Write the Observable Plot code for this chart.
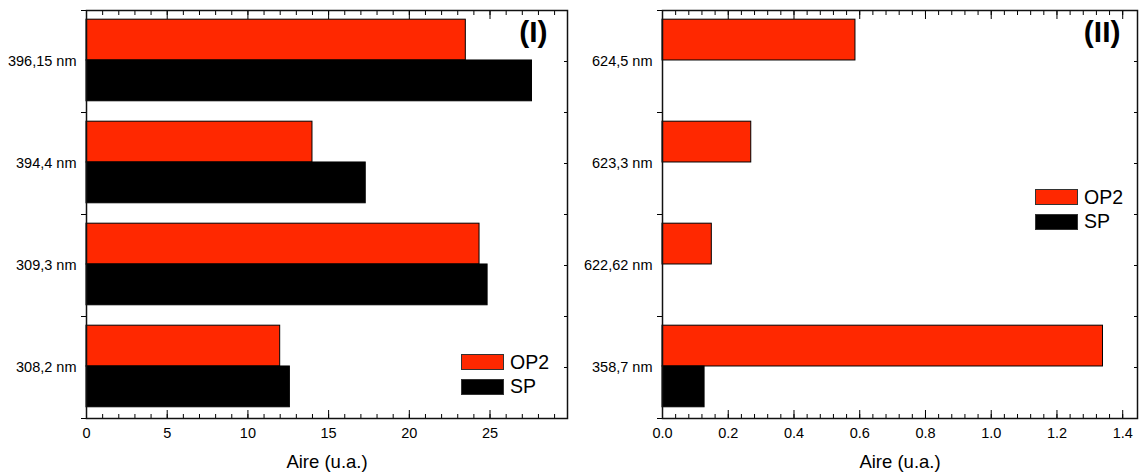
<!DOCTYPE html>
<html>
<head>
<meta charset="utf-8">
<script src="https://cdn.jsdelivr.net/npm/d3@7"></script>
<script src="https://cdn.jsdelivr.net/npm/@observablehq/plot@0.6"></script>
<style>
  html, body { margin: 0; padding: 0; background: #fff; }
  #wrap { position: relative; width: 1139px; height: 475px; display: flex; font-family: "Liberation Sans", Arial, sans-serif; }
  .legend { position: absolute; font-size: 19.5px; color: #000; line-height: 1; }
  .legend .row { display: flex; align-items: center; height: 24.5px; }
  .legend .sw { width: 41px; height: 14px; border: 1px solid #333; margin-right: 6px; }
</style>
</head>
<body>
<div id="wrap"></div>
<script>
// ---- data ----
const seriesNames = ["OP2", "SP"];
const seriesColors = ["#ff2800", "#000000"];

const catsI = ["396,15 nm", "394,4 nm", "309,3 nm", "308,2 nm"];
const op2I = [23.5, 14.0, 24.35, 12.0];
const spI = [27.6, 17.3, 24.85, 12.6];
const xMajorI = [0, 5, 10, 15, 20, 25];
const xMinorI = d3.range(0, 30, 1);

const catsII = ["624,5 nm", "623,3 nm", "622,62 nm", "358,7 nm"];
const op2II = [0.587, 0.27, 0.15, 1.34];
const spII = [0, 0, 0, 0.128];
const xMajorII = [0.0, 0.2, 0.4, 0.6, 0.8, 1.0, 1.2, 1.4];
const xMinorII = d3.range(0, 1.44, 0.04);

const axisTitle = "Aire (u.a.)";
const FONT = "Liberation Sans, Arial, sans-serif";

function panel({cats, op2, sp, xMax, major, minor, fmt, width, marginLeft, marginRight, tag, tagDx}) {
  const height = 475, marginTop = 10, marginBottom = 57;
  const band = (height - marginTop - marginBottom) / cats.length;
  const rows = [];
  cats.forEach((c, i) => {
    rows.push({cat: c, series: seriesNames[0], value: op2[i]});
    rows.push({cat: c, series: seriesNames[1], value: sp[i]});
  });
  const data = rows.filter(d => d.value > 0);
  return Plot.plot({
    width, height, marginTop, marginBottom, marginLeft, marginRight,
    style: {fontFamily: FONT, fontSize: "14.5px", color: "#000", background: "#fff"},
    x: {domain: [0, xMax], axis: null},
    y: {domain: cats, padding: 0, axis: null},
    color: {domain: seriesNames, range: seriesColors},
    marks: [
      Plot.barX(data.filter(d => d.series === "OP2"), {
        y: "cat", x: "value", fill: "series", stroke: "#000", strokeWidth: 1,
        insetTop: 0.09 * band, insetBottom: 0.51 * band
      }),
      Plot.barX(data.filter(d => d.series === "SP"), {
        y: "cat", x: "value", fill: "series", stroke: "#000", strokeWidth: 1,
        insetTop: 0.49 * band, insetBottom: 0.11 * band
      }),
      // x tick labels
      Plot.axisX({anchor: "bottom", ticks: major, tickSize: 0, tickPadding: 9, tickFormat: fmt, fontSize: 14.5, label: null}),
      // x inward ticks (bottom + top)
      Plot.axisX({anchor: "bottom", ticks: major, tickSize: 8, dy: -8, text: null, label: null, stroke: "#000"}),
      Plot.axisX({anchor: "bottom", ticks: minor, tickSize: 4, dy: -4, text: null, label: null, stroke: "#000"}),
      Plot.axisX({anchor: "top", ticks: major, tickSize: 8, dy: 8, text: null, label: null, stroke: "#000"}),
      Plot.axisX({anchor: "top", ticks: minor, tickSize: 4, dy: 4, text: null, label: null, stroke: "#000"}),
      // y category labels
      Plot.axisY({anchor: "left", tickSize: 0, tickPadding: 10, fontSize: 14.5, label: null}),
      // y outward ticks at band boundaries
      Plot.axisY({anchor: "left", tickSize: 5, dy: band / 2, text: null, label: null, stroke: "#000"}),
      Plot.axisY({anchor: "left", tickSize: 5, dy: -band / 2, text: null, label: null, stroke: "#000"}),
      // right side inward ticks
      Plot.axisY({anchor: "right", tickSize: 4, dx: -4, text: null, label: null, stroke: "#000"}),
      Plot.axisY({anchor: "right", tickSize: 4, dx: -4, dy: band / 2, text: null, label: null, stroke: "#000"}),
      Plot.frame({stroke: "#111", strokeWidth: 1.5}),
      Plot.text([axisTitle], {frameAnchor: "bottom", text: d => d, dy: 44, fontSize: 18.5, lineAnchor: "middle"}),
      Plot.text([tag], {frameAnchor: "top-right", text: d => d, dx: tagDx, dy: 10, fontSize: 30, fontWeight: "bold", lineAnchor: "top", textAnchor: "end"})
    ]
  });
}

const wrap = document.getElementById("wrap");
const p1 = panel({cats: catsI, op2: op2I, sp: spI, xMax: 29.8, major: xMajorI, minor: xMinorI, fmt: d3.format("d"),
  width: 575, marginLeft: 86, marginRight: 8, tag: "(I)", tagDx: -20});
const p2 = panel({cats: catsII, op2: op2II, sp: spII, xMax: 1.445, major: xMajorII, minor: xMinorII, fmt: d3.format(".1f"),
  width: 564, marginLeft: 87, marginRight: 2, tag: "(II)", tagDx: -17});
wrap.appendChild(p1);
wrap.appendChild(p2);

function legend(left, top) {
  const div = document.createElement("div");
  div.className = "legend";
  div.style.left = left + "px";
  div.style.top = top + "px";
  seriesNames.forEach((name, i) => {
    const row = document.createElement("div");
    row.className = "row";
    const sw = document.createElement("div");
    sw.className = "sw";
    sw.style.background = seriesColors[i];
    const tx = document.createElement("span");
    tx.textContent = name;
    row.appendChild(sw);
    row.appendChild(tx);
    div.appendChild(row);
  });
  wrap.appendChild(div);
}
legend(461, 350);
legend(1035, 185);
</script>
</body>
</html>
